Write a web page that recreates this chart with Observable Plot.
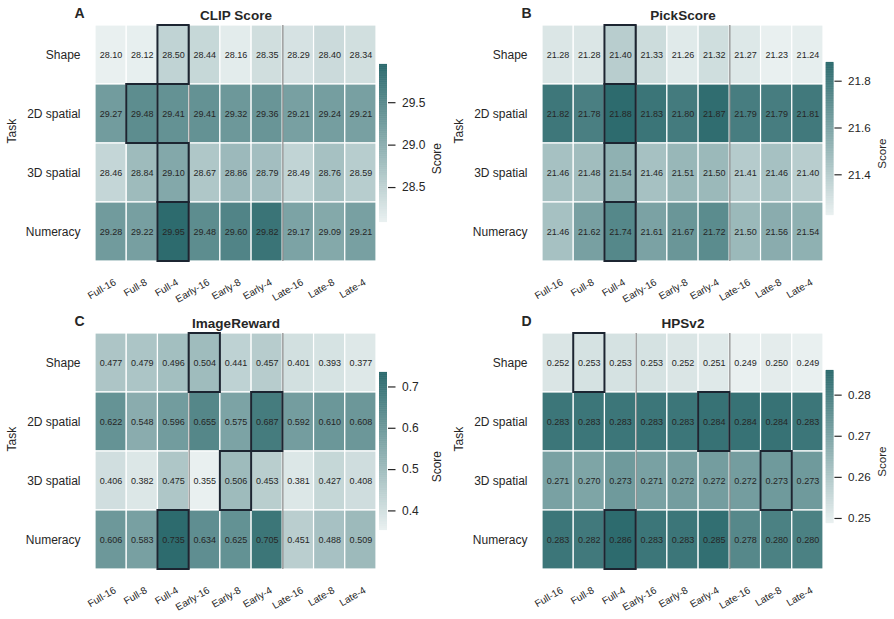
<!DOCTYPE html>
<html>
<head>
<meta charset="utf-8">
<script src="https://cdn.jsdelivr.net/npm/d3@7"></script>
<script src="https://cdn.jsdelivr.net/npm/@observablehq/plot@0.6"></script>
<style>
  body { margin: 0; background: #ffffff; }
  #fig { position: relative; width: 894px; height: 619px; overflow: hidden; background: #fff;
         font-family: "Liberation Sans", Arial, Helvetica, sans-serif; }
  .abs { position: absolute; }
</style>
</head>
<body>
<div id="fig"></div>
<script>
// ---------------- data ----------------
const methods = ["Full-16", "Full-8", "Full-4", "Early-16", "Early-8", "Early-4", "Late-16", "Late-8", "Late-4"];
const tasks = ["Shape", "2D spatial", "3D spatial", "Numeracy"];

const clipScore = [
  [28.10, 28.12, 28.50, 28.44, 28.16, 28.35, 28.29, 28.40, 28.34],
  [29.27, 29.48, 29.41, 29.41, 29.32, 29.36, 29.21, 29.24, 29.21],
  [28.46, 28.84, 29.10, 28.67, 28.86, 28.79, 28.49, 28.76, 28.59],
  [29.28, 29.22, 29.95, 29.48, 29.60, 29.82, 29.17, 29.09, 29.21]
];
const pickScore = [
  [21.28, 21.28, 21.40, 21.33, 21.26, 21.32, 21.27, 21.23, 21.24],
  [21.82, 21.78, 21.88, 21.83, 21.80, 21.87, 21.79, 21.79, 21.81],
  [21.46, 21.48, 21.54, 21.46, 21.51, 21.50, 21.41, 21.46, 21.40],
  [21.46, 21.62, 21.74, 21.61, 21.67, 21.72, 21.50, 21.56, 21.54]
];
const imageReward = [
  [0.477, 0.479, 0.496, 0.504, 0.441, 0.457, 0.401, 0.393, 0.377],
  [0.622, 0.548, 0.596, 0.655, 0.575, 0.687, 0.592, 0.610, 0.608],
  [0.406, 0.382, 0.475, 0.355, 0.506, 0.453, 0.381, 0.427, 0.408],
  [0.606, 0.583, 0.735, 0.634, 0.625, 0.705, 0.451, 0.488, 0.509]
];
const hpsV2 = [
  [0.252, 0.253, 0.253, 0.253, 0.252, 0.251, 0.249, 0.250, 0.249],
  [0.283, 0.283, 0.283, 0.283, 0.283, 0.284, 0.284, 0.284, 0.283],
  [0.271, 0.270, 0.273, 0.271, 0.272, 0.272, 0.272, 0.273, 0.273],
  [0.283, 0.282, 0.286, 0.283, 0.283, 0.285, 0.278, 0.280, 0.280]
];

// best method (column index) per task, outlined in black
const clipBest = [2, 1, 2, 2];
const pickBest = [2, 2, 2, 2];
const imageRewardBest = [3, 5, 4, 2];
const hpsBest = [1, 5, 7, 2];

// group boundaries (between Full / Early / Late)
const groupBreaks = [3, 6];

// colorbar ticks
const clipTicks = [28.5, 29.0, 29.5];
const pickTicks = [21.4, 21.6, 21.8];
const imageRewardTicks = [0.4, 0.5, 0.6, 0.7];
const hpsTicks = [0.25, 0.26, 0.27, 0.28];

const titles = ["CLIP Score", "PickScore", "ImageReward", "HPSv2"];
const letters = ["A", "B", "C", "D"];

// ---------------- drawing ----------------
const FONT = '"Liberation Sans", Arial, Helvetica, sans-serif';
const LIGHT = "#e9f0f0", DARK = "#2d6b6e";
const TEXT = "#262626";

const panels = [
  {values: clipScore, best: clipBest, ticks: clipTicks, cellFmt: ".2f", tickFmt: ".1f"},
  {values: pickScore, best: pickBest, ticks: pickTicks, cellFmt: ".2f", tickFmt: ".1f"},
  {values: imageReward, best: imageRewardBest, ticks: imageRewardTicks, cellFmt: ".3f", tickFmt: ".1f"},
  {values: hpsV2, best: hpsBest, ticks: hpsTicks, cellFmt: ".3f", tickFmt: ".2f"}
];

const fig = document.getElementById("fig");

function place(node, left, top) {
  const wrap = document.createElement("div");
  wrap.className = "abs";
  wrap.style.left = left + "px";
  wrap.style.top = top + "px";
  wrap.appendChild(node);
  fig.appendChild(wrap);
}

panels.forEach((p, k) => {
  const col = k % 2, row = Math.floor(k / 2);
  const left = col * 446.5, top = row * 308.3;

  const table = [];
  p.values.forEach((vals, r) => vals.forEach((v, c) => table.push({row: r, col: c, value: v})));
  const bestCells = p.best.map((c, r) => ({row: r, col: c}));
  const extent = d3.extent(table, d => d.value);
  const color = {type: "linear", domain: extent, range: [LIGHT, DARK], interpolate: "rgb"};
  const fmt = d3.format(p.cellFmt);

  const heat = Plot.plot({
    width: 380, height: 308,
    marginLeft: 95, marginRight: 4, marginTop: 25, marginBottom: 47,
    style: {fontFamily: FONT, color: TEXT, background: "transparent", overflow: "visible"},
    x: {domain: [0, methods.length], axis: null},
    y: {domain: [0, tasks.length], reverse: true, axis: null},
    color,
    marks: [
      Plot.rect(table, {x1: d => d.col, x2: d => d.col + 1, y1: d => d.row, y2: d => d.row + 1,
                        fill: "value", stroke: "white", strokeWidth: 1.2}),
      Plot.ruleX(groupBreaks, {x: d => d, stroke: "#8a8a8a", strokeWidth: 1.2}),
      Plot.rect(bestCells, {x1: d => d.col, x2: d => d.col + 1, y1: d => d.row, y2: d => d.row + 1,
                            fill: "none", stroke: "#1c2531", strokeWidth: 2}),
      Plot.text(table, {x: d => d.col + 0.5, y: d => d.row + 0.5, text: d => fmt(d.value),
                        fontSize: 9, fill: TEXT}),
      // y tick labels
      Plot.text(tasks, {y: (d, i) => i + 0.5, frameAnchor: "left", dx: -15, textAnchor: "end",
                        fontSize: 12, fill: TEXT}),
      // x tick labels
      Plot.text(methods, {x: (d, i) => i + 0.5, frameAnchor: "bottom", dx: 4, dy: 20, rotate: -30,
                          textAnchor: "end", lineAnchor: "middle", fontSize: 10, fill: TEXT}),
      // axis label
      Plot.text(["Task"], {frameAnchor: "left", dx: -83, rotate: -90, fontSize: 12, fill: TEXT}),
      // title
      Plot.text([titles[k]], {frameAnchor: "top", dy: -10, lineAnchor: "middle", fontSize: 13.5,
                              fontWeight: "bold", fill: TEXT}),
      // panel letter
      Plot.text([letters[k]], {frameAnchor: "top-left", dx: -16, dy: -12, lineAnchor: "middle", fontSize: 14,
                               fontWeight: "bold", textAnchor: "middle", fill: TEXT})
    ]
  });
  place(heat, left, top);

  const stripes = d3.range(0, 241).map(i => extent[0] + (extent[1] - extent[0]) * i / 240);
  const bar = Plot.plot({
    width: 80, height: 300,
    marginLeft: 9, marginRight: 63, marginTop: 64, marginBottom: 79,
    style: {fontFamily: FONT, color: TEXT, background: "transparent", overflow: "visible"},
    y: {domain: extent, axis: null},
    color,
    marks: [
      Plot.ruleY(stripes, {y: d => d, stroke: d => d, strokeWidth: 1.2}),
      Plot.axisY({anchor: "right", ticks: p.ticks, tickFormat: d3.format(p.tickFmt), tickSize: 7.5,
                  tickPadding: 7, fontSize: 12, strokeWidth: 1.2, label: null}),
      Plot.text(["Score"], {frameAnchor: "right", dx: 50, rotate: -90, fontSize: 12, fill: TEXT})
    ]
  });
  place(bar, left + 370, top);
});
</script>
</body>
</html>
